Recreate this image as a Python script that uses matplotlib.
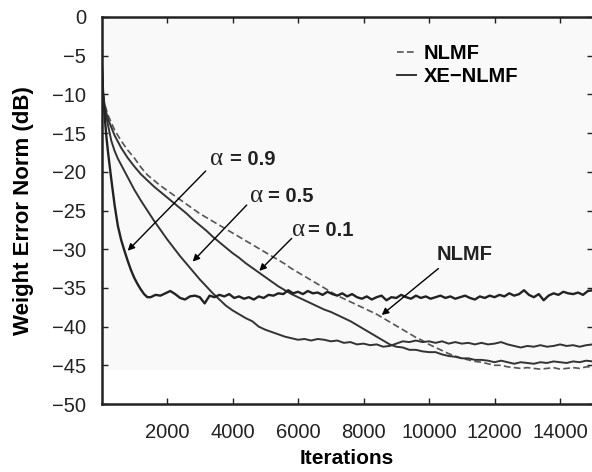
import numpy as np
import matplotlib
matplotlib.use("Agg")
import matplotlib.pyplot as plt

plt.rcParams['font.family'] = ['Liberation Sans', 'DejaVu Sans']

# ---- data ----
# XE-NLMF, alpha = 0.9
x_a09 = [0, 50, 100, 150, 200, 300, 400, 500, 600, 700, 800, 900, 1000, 1100,
         1200, 1300, 1400] + list(range(1500, 15001, 150))
y_a09 = [-5, -10, -13, -15.5, -17.5, -21, -24.3, -27, -28.8, -30.2, -31.5, -32.7,
         -33.7, -34.5, -35.2, -35.8, -36.2,
         -36.2, -35.9, -36.0, -35.7, -35.4, -35.8, -36.3, -36.5, -36.1, -36.0,
         -36.2, -37.0, -36.0, -36.2, -35.9, -36.1, -35.8, -36.3, -36.1, -36.4,
         -36.2, -36.5, -36.1, -36.3, -35.9, -36.0, -35.7, -35.8, -35.3, -35.7,
         -35.5, -35.8, -35.4, -35.7, -35.6, -35.9, -35.5, -35.8, -36.0, -35.7,
         -36.1, -35.8, -36.2, -36.4, -36.1, -36.5, -36.2, -36.0, -36.6, -36.2,
         -36.3, -35.9, -36.2, -36.4, -36.0, -36.3, -36.1, -36.4, -36.2, -36.0,
         -36.3, -36.1, -36.4, -36.2, -36.0, -36.3, -36.5, -36.1, -36.3, -36.0,
         -36.2, -35.9, -36.1, -35.7, -36.0, -35.8, -35.3, -35.9, -36.2, -35.8,
         -36.6, -36.0, -35.7, -35.9, -35.5, -35.7, -35.8, -35.6, -35.9, -35.4,
         -35.3]

# XE-NLMF, alpha = 0.5
x_a05 = [0, 50, 100, 200, 300, 400, 500, 600, 700, 800] + list(range(1000, 15001, 200))
y_a05 = [-5, -10, -11.8, -14, -16, -17.3, -18.3, -19.1, -19.9, -20.7,
         -22.3, -23.7, -25.0, -26.3, -27.5, -28.7, -29.8, -30.9, -31.9, -32.9,
         -33.9, -34.8, -35.7, -36.5, -37.3, -37.9, -38.4, -38.9, -39.3, -40.0,
         -40.4, -40.7, -41.0, -41.3, -41.5,
         -41.7, -41.6, -41.8, -41.6, -41.7, -41.9, -41.8, -42.1, -42.0, -42.3,
         -42.2, -42.4, -42.3, -42.6, -42.5, -42.2, -41.9, -42.0, -41.8, -42.0,
         -41.9, -42.1, -41.9, -42.2, -42.0, -42.2, -42.1, -42.3, -42.1, -42.3,
         -42.2, -42.0, -42.3, -42.5, -42.7, -42.5, -42.6, -42.4, -42.6, -42.5,
         -42.3, -42.5, -42.4, -42.6, -42.4, -42.3]

# XE-NLMF, alpha = 0.1
x_a01 = [0, 50, 100, 200] + list(range(400, 15001, 200))
y_a01 = [-5, -10, -11.6, -13.2,
         -15.3, -16.9, -18.2, -19.3, -20.3, -21.1, -21.9, -22.6, -23.3, -24.0,
         -24.7, -25.4, -26.2, -26.9, -27.6, -28.4, -29.1, -29.8, -30.5, -31.1,
         -31.8, -32.4, -33.0, -33.6, -34.2, -34.8, -35.3, -35.8, -36.2, -36.6,
         -37.0, -37.4, -37.8, -38.1, -38.5, -38.9, -39.3, -39.8, -40.3, -40.8,
         -41.3, -41.8, -42.3, -42.6, -42.7, -43.0, -43.0, -43.2, -43.3, -43.3,
         -43.6, -43.8, -43.9, -44.1, -44.1, -44.3, -44.3, -44.4, -44.6, -44.4,
         -44.6, -44.8, -44.6, -44.7, -44.8, -44.6, -44.7, -44.5, -44.6, -44.7,
         -44.5, -44.6, -44.4, -44.5]

# NLMF (dashed)
x_nlmf = [0, 50, 100, 200] + list(range(400, 15001, 200))
y_nlmf = [-5, -10, -11.3, -12.7,
          -14.6, -16.0, -17.2, -18.2, -19.4, -20.4, -21.1, -21.8, -22.4, -23.0,
          -23.6, -24.2, -24.8, -25.4, -25.9, -26.4, -26.9, -27.4, -27.9, -28.4,
          -28.9, -29.4, -29.9, -30.4, -30.9, -31.4, -31.9, -32.5, -33.0, -33.5,
          -34.0, -34.5, -35.0, -35.5, -36.0, -36.4, -36.8, -37.2, -37.6, -38.0,
          -38.4, -38.9, -39.4, -39.9, -40.4, -40.9, -41.4, -41.8, -42.3, -42.7,
          -43.1, -43.5, -43.8, -44.1, -44.3, -44.5, -44.6, -44.8, -45.0, -45.0,
          -45.2, -45.3, -45.4, -45.3, -45.4, -45.5, -45.4, -45.3, -45.5, -45.4,
          -45.3, -45.4, -45.2, -45.2]

xticks = [2000, 4000, 6000, 8000, 10000, 12000, 14000]
yticks = [0, -5, -10, -15, -20, -25, -30, -35, -40, -45, -50]

# ---- figure ----
fig = plt.figure(figsize=(5.92, 4.72), dpi=100)
ax = fig.add_axes([101.5 / 592, 68 / 472, 491.3 / 592, 387 / 472])
ax.set_facecolor('#f9f9f9')
ax.axhspan(-50, -45.6, color='white', lw=0, zorder=0)

ax.plot(x_nlmf, y_nlmf, color='#555555', lw=1.2, ls=(0, (4, 2)), label='NLMF')
ax.plot(x_a01, y_a01, color='#333333', lw=1.4)
ax.plot(x_a05, y_a05, color='#333333', lw=1.4, label='XE\u2212NLMF')
ax.plot(x_a09, y_a09, color='#222222', lw=1.7)

ax.set_xlim(0, 15000)
ax.set_ylim(-50, 0)
ax.set_xticks(xticks)
ax.set_yticks(yticks)
ax.tick_params(direction='in', top=True, right=True, length=4, width=1,
               labelsize=14.5, colors='#222222')
ax.tick_params(axis='x', pad=14)
ax.tick_params(axis='y', pad=11)
for s in ax.spines.values():
    s.set_linewidth(1.8)
    s.set_color('#222222')

ax.set_xlabel('Iterations', fontsize=15, fontweight='bold', labelpad=5)
ax.set_ylabel('Weight Error Norm (dB)', fontsize=16, fontweight='bold', labelpad=13)

leg = ax.legend(loc='upper left', bbox_to_anchor=(0.601, 0.93), frameon=False,
                prop={'size': 14.5, 'weight': 'bold'}, handlelength=0.95,
                handletextpad=0.4, labelspacing=0.2, borderpad=0, borderaxespad=0)

# alpha labels and arrows
arrow = dict(arrowstyle='-|>', lw=1, color='black', mutation_scale=10,
             shrinkA=0, shrinkB=0)
ax.annotate('', xy=(800, -30.2), xytext=(3180, -19.9), arrowprops=arrow)
ax.annotate('', xy=(2784, -31.6), xytext=(4433, -24.3), arrowprops=arrow)
ax.annotate('', xy=(4819, -32.8), xytext=(5807, -28.6), arrowprops=arrow)
ax.annotate('', xy=(8555, -38.5), xytext=(10285, -32.5), arrowprops=arrow)

labels = [(3313, 3924, -19.1, '= 0.9'), (4534, 5084, -23.9, '= 0.5'),
          (5817, 6305, -28.3, '= 0.1')]
for xa, xt, yb, txt in labels:
    ax.text(xa, yb, '\u03b1', family='Liberation Serif', fontsize=18,
            va='baseline', ha='left', color='#222222')
    ax.text(xt, yb, txt, fontsize=14.5, fontweight='bold', va='baseline',
            ha='left', color='#222222')
ax.text(10235, -31.4, 'NLMF', fontsize=14.5, fontweight='bold', va='baseline',
        ha='left', color='#222222')

fig.savefig('out.png', dpi=100, facecolor='white')
